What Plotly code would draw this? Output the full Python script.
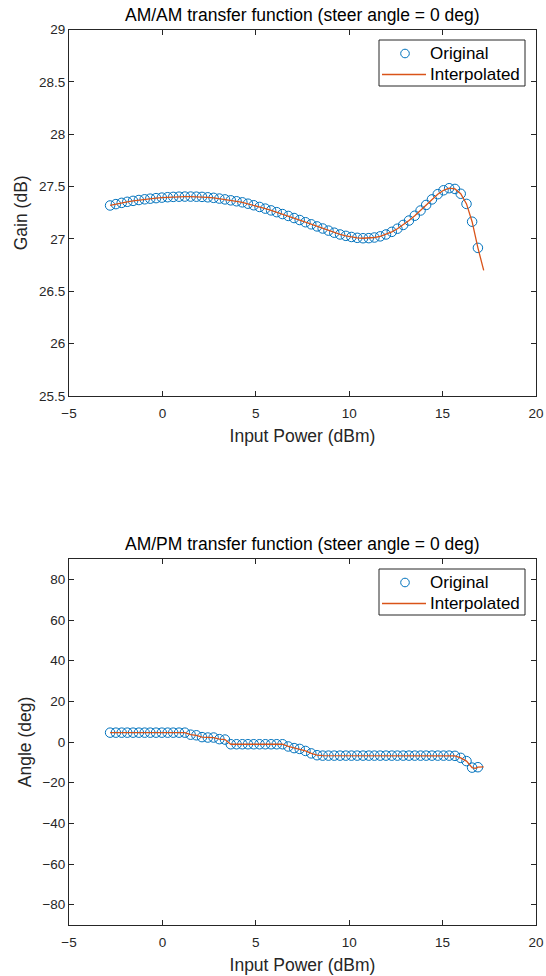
import plotly.graph_objects as go

# Input power grid (dBm) of the measured samples
input_power = [
    -2.80, -2.49, -2.18, -1.88, -1.57, -1.26, -0.95, -0.65, -0.34, -0.03,
    0.28, 0.58, 0.89, 1.20, 1.51, 1.82, 2.12, 2.43, 2.74, 3.05,
    3.35, 3.66, 3.97, 4.28, 4.58, 4.89, 5.20, 5.51, 5.82, 6.12,
    6.43, 6.74, 7.05, 7.35, 7.66, 7.97, 8.28, 8.58, 8.89, 9.20,
    9.51, 9.82, 10.12, 10.43, 10.74, 11.05, 11.35, 11.66, 11.97, 12.28,
    12.58, 12.89, 13.20, 13.51, 13.82, 14.12, 14.43, 14.74, 15.05, 15.35,
    15.66, 15.97, 16.28, 16.58, 16.89,
]

# AM/AM: measured gain (dB)
gain_db = [
    27.320, 27.333, 27.345, 27.355, 27.364, 27.372, 27.379, 27.385, 27.390, 27.395,
    27.399, 27.402, 27.404, 27.405, 27.405, 27.404, 27.402, 27.398, 27.393, 27.386,
    27.378, 27.369, 27.360, 27.350, 27.337, 27.322, 27.306, 27.290, 27.273, 27.256,
    27.238, 27.220, 27.200, 27.181, 27.160, 27.140, 27.120, 27.100, 27.080, 27.060,
    27.043, 27.030, 27.019, 27.011, 27.007, 27.008, 27.014, 27.025, 27.043, 27.068,
    27.098, 27.134, 27.176, 27.222, 27.272, 27.325, 27.378, 27.428, 27.465, 27.485,
    27.478, 27.432, 27.335, 27.165, 26.915,
]

# AM/PM: measured phase (deg)
angle_deg = [
    4.6, 4.6, 4.6, 4.6, 4.6, 4.6, 4.6, 4.6, 4.6, 4.6,
    4.6, 4.6, 4.6, 4.6, 3.6, 3.3, 2.4, 2.2, 2.2, 1.4,
    1.2, -1.1, -1.1, -1.1, -1.1, -1.1, -1.1, -1.1, -1.1, -1.1,
    -1.1, -2.2, -3.0, -3.4, -4.4, -5.6, -6.5, -6.7, -6.7, -6.7,
    -6.7, -6.7, -6.7, -6.7, -6.7, -6.7, -6.7, -6.7, -6.7, -6.7,
    -6.7, -6.7, -6.7, -6.7, -6.7, -6.7, -6.7, -6.7, -6.7, -6.7,
    -6.8, -7.8, -9.4, -12.6, -12.4,
]

# Interpolated curves: the samples plus a short continuation past the last one
am_tail_power = [17.20]
am_tail_gain = [26.70]
pm_mid_power = [16.75]
pm_mid_angle = [-13.0]
pm_tail_power = [17.20]
pm_tail_angle = [-12.2]

interp_power_am = input_power + am_tail_power
interp_gain_am = gain_db + am_tail_gain
interp_power_pm = input_power[:-1] + pm_mid_power + input_power[-1:] + pm_tail_power
interp_angle_pm = angle_deg[:-1] + pm_mid_angle + angle_deg[-1:] + pm_tail_angle

x_ticks = [-5, 0, 5, 10, 15, 20]
gain_ticks = [25.5, 26, 26.5, 27, 27.5, 28, 28.5, 29]
angle_ticks = [-80, -60, -40, -20, 0, 20, 40, 60, 80]
legend_names = ["Original", "Interpolated"]

W, H = 546, 976
AX = "#262626"
BLUE = "#0072BD"
ORANGE = "#D95319"
FONT = "Liberation Sans, Arial, sans-serif"

x_dom = [69 / W, 536 / W]
top_dom = [1 - 396 / H, 1 - 29.6 / H]
bot_dom = [1 - 925 / H, 1 - 559 / H]

fig = go.Figure()

marker_style = dict(symbol="circle-open", size=9.5, color=BLUE, line=dict(width=1, color=BLUE))
line_style = dict(color=ORANGE, width=1.3)

fig.add_trace(go.Scatter(x=input_power, y=gain_db, mode="markers", marker=marker_style,
                         name=legend_names[0], xaxis="x", yaxis="y"))
fig.add_trace(go.Scatter(x=interp_power_am, y=interp_gain_am, mode="lines", line=line_style,
                         name=legend_names[1], xaxis="x", yaxis="y"))
fig.add_trace(go.Scatter(x=input_power, y=angle_deg, mode="markers", marker=marker_style,
                         name=legend_names[0], xaxis="x2", yaxis="y2"))
fig.add_trace(go.Scatter(x=interp_power_pm, y=interp_angle_pm, mode="lines", line=line_style,
                         name=legend_names[1], xaxis="x2", yaxis="y2"))


def xaxis(anchor):
    return dict(
        domain=x_dom, anchor=anchor, range=[-5, 20], tickvals=x_ticks,
        ticks="inside", ticklen=5, tickcolor=AX, tickwidth=1,
        showline=True, linecolor=AX, linewidth=1, mirror="ticks",
        showgrid=False, zeroline=False, automargin=False,
        ticklabelstandoff=5,
        tickfont=dict(size=13.5, color=AX, family=FONT),
        title=dict(text="Input Power (dBm)", font=dict(size=17.5, color=AX, family=FONT), standoff=9),
    )


def yaxis(anchor, dom, rng, ticks, label):
    return dict(
        domain=dom, anchor=anchor, range=rng, tickvals=ticks,
        ticks="inside", ticklen=5, tickcolor=AX, tickwidth=1,
        showline=True, linecolor=AX, linewidth=1, mirror="ticks",
        showgrid=False, zeroline=False, automargin=False,
        tickfont=dict(size=13.5, color=AX, family=FONT),
        title=dict(text=label, font=dict(size=17.5, color=AX, family=FONT), standoff=6),
    )


def px(x, y):
    """Pixel position on the page -> paper coordinates."""
    return x / W, 1 - y / H


def legend_box(top):
    """Boxed legend (top edge at pixel row `top`) with a marker and a line entry."""
    shapes, notes = [], []
    left, right, height = 379, 525, 46
    x0, y0 = px(left, top)
    x1, y1 = px(right, top + height)
    shapes.append(dict(type="rect", xref="paper", yref="paper", x0=x0, x1=x1, y0=y1, y1=y0,
                       line=dict(color=AX, width=1), fillcolor="white", layer="above"))
    row1, row2 = top + 13.5, top + 34.5
    r = 4.3
    cx0, cy0 = px(405 - r, row1 - r)
    cx1, cy1 = px(405 + r, row1 + r)
    shapes.append(dict(type="circle", xref="paper", yref="paper", x0=cx0, x1=cx1, y0=cy1, y1=cy0,
                       line=dict(color=BLUE, width=1), layer="above"))
    lx0, ly = px(382, row2)
    lx1, _ = px(426, row2)
    shapes.append(dict(type="line", xref="paper", yref="paper", x0=lx0, x1=lx1, y0=ly, y1=ly,
                       line=dict(color=ORANGE, width=1.3), layer="above"))
    for name, row in zip(legend_names, (row1, row2)):
        tx, ty = px(428, row)
        notes.append(dict(text=name, xref="paper", yref="paper", x=tx, y=ty,
                          xanchor="left", yanchor="middle", showarrow=False,
                          font=dict(size=17, color="black", family=FONT)))
    return shapes, notes


top_shapes, top_notes = legend_box(40)
bot_shapes, bot_notes = legend_box(569)

title_x = (x_dom[0] + x_dom[1]) / 2
titles = [
    dict(text="AM/AM transfer function (steer angle = 0 deg)", xref="paper", yref="paper",
         x=title_x, y=top_dom[1], xanchor="center", yanchor="bottom",
         yshift=3, showarrow=False, font=dict(size=17.5, color="black", family=FONT)),
    dict(text="AM/PM transfer function (steer angle = 0 deg)", xref="paper", yref="paper",
         x=title_x, y=bot_dom[1], xanchor="center", yanchor="bottom",
         yshift=3, showarrow=False, font=dict(size=17.5, color="black", family=FONT)),
]

fig.update_layout(
    width=W, height=H,
    margin=dict(l=0, r=0, t=0, b=0),
    paper_bgcolor="white", plot_bgcolor="white",
    font=dict(family=FONT, color=AX),
    xaxis=xaxis("y"),
    yaxis=yaxis("x", top_dom, [25.5, 29], gain_ticks, "Gain (dB)"),
    xaxis2=xaxis("y2"),
    yaxis2=yaxis("x2", bot_dom, [-90, 90], angle_ticks, "Angle (deg)"),
    showlegend=False,
    shapes=top_shapes + bot_shapes,
    annotations=titles + top_notes + bot_notes,
)

fig.write_html("out.html")
